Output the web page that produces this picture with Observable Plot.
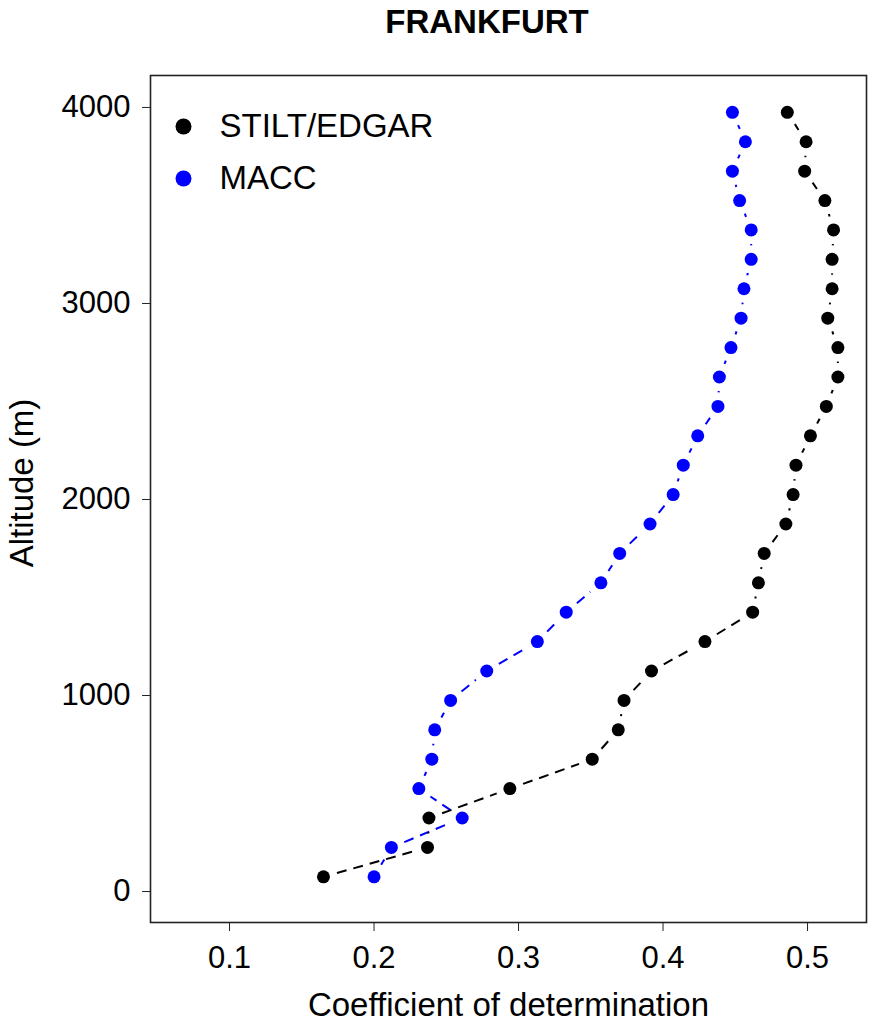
<!DOCTYPE html>
<html>
<head>
<meta charset="utf-8">
<script src="https://cdn.jsdelivr.net/npm/d3@7"></script>
<script src="https://cdn.jsdelivr.net/npm/@observablehq/plot@0.6"></script>
<style>
  body { margin: 0; background: #fff; font-family: "Liberation Sans", Arial, sans-serif; }
  #title { height: 50px; line-height: 44px; font-size: 33px; font-weight: bold; text-align: center; padding-left: 101px; width: 772px; color: #000; }
  svg { font-family: "Liberation Sans", Arial, sans-serif; }
</style>
</head>
<body>
<div id="title">FRANKFURT</div>
<div id="chart"></div>
<script>
const altitudes = [75, 225, 375, 525, 675, 825, 975, 1125, 1275, 1425, 1575, 1725, 1875, 2025, 2175, 2325, 2475, 2625, 2775, 2925, 3075, 3225, 3375, 3525, 3675, 3825, 3975];
const stiltEdgar = [0.165, 0.237, 0.238, 0.294, 0.351, 0.369, 0.373, 0.392, 0.429, 0.462, 0.466, 0.470, 0.485, 0.490, 0.492, 0.502, 0.513, 0.521, 0.521, 0.514, 0.517, 0.517, 0.518, 0.512, 0.498, 0.499, 0.486];
const macc = [0.200, 0.212, 0.261, 0.231, 0.240, 0.242, 0.253, 0.278, 0.313, 0.333, 0.357, 0.370, 0.391, 0.407, 0.414, 0.424, 0.438, 0.439, 0.447, 0.454, 0.456, 0.461, 0.461, 0.453, 0.448, 0.457, 0.448];
const seriesNames = ["STILT/EDGAR", "MACC"];
const seriesColors = ["#000000", "#0000ff"];
const xTicks = [0.1, 0.2, 0.3, 0.4, 0.5];
const yTicks = [0, 1000, 2000, 3000, 4000];
const xLabel = "Coefficient of determination";
const yLabel = "Altitude (m)";

const toPoints = vals => altitudes.map((a, i) => ({alt: a, r2: vals[i]}));
const toSegments = vals => altitudes.slice(1).map((a, i) => ({
  x1: vals[i], y1: altitudes[i], x2: vals[i + 1], y2: a
}));
const stiltData = toPoints(stiltEdgar);
const maccData = toPoints(macc);

// R type="b" style: dashed segments with a gap around each point
const segMark = (vals, color) => Plot.arrow(toSegments(vals), {
  x1: "x1", y1: "y1", x2: "x2", y2: "y2",
  stroke: color, strokeWidth: 2, strokeDasharray: "10,7", strokeLinecap: "butt",
  headLength: 0, insetStart: 14, insetEnd: 14
});

const legendMarks = seriesNames.flatMap((name, i) => [
  Plot.dot([name], {frameAnchor: "top-left", dx: 33, dy: 51 + i * 52, r: 8, fill: seriesColors[i], stroke: "none"}),
  Plot.text([name], {frameAnchor: "top-left", dx: 69, dy: 51 + i * 52, text: d => d, textAnchor: "start", lineAnchor: "middle", fontSize: 33, fill: "#000"})
]);

const chart = Plot.plot({
  width: 873,
  height: 974,
  marginTop: 25,
  marginBottom: 102,
  marginLeft: 150,
  marginRight: 7,
  x: {domain: [0.0453, 0.5408]},
  y: {domain: [-158, 4163]},
  marks: [
    Plot.axisX({ticks: xTicks, tickSize: 9, tickPadding: 14, fontSize: 31, label: null, tickFormat: d => d.toFixed(1), stroke: "#222", color: "#000"}),
    Plot.axisY({ticks: yTicks, tickSize: 8, tickPadding: 12, fontSize: 31, label: null, tickFormat: d => String(d), stroke: "#222", color: "#000"}),
    Plot.frame({stroke: "#222", strokeWidth: 1.6}),
    segMark(macc, seriesColors[1]),
    segMark(stiltEdgar, seriesColors[0]),
    Plot.dot(stiltData, {x: "r2", y: "alt", r: 6.5, fill: seriesColors[0], stroke: "none"}),
    Plot.dot(maccData, {x: "r2", y: "alt", r: 6.5, fill: seriesColors[1], stroke: "none"}),
    ...legendMarks,
    Plot.text([xLabel], {frameAnchor: "bottom", dy: 83, fontSize: 33, fill: "#000", textAnchor: "middle", lineAnchor: "middle"}),
    Plot.text([yLabel], {frameAnchor: "left", dx: -128, dy: -16, rotate: -90, fontSize: 33, fill: "#000", textAnchor: "middle", lineAnchor: "middle"})
  ]
});
document.getElementById("chart").appendChild(chart);
</script>
</body>
</html>
